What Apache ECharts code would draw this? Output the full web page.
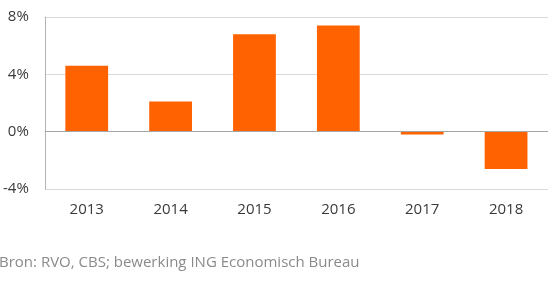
<!DOCTYPE html>
<html><head><meta charset="utf-8">
<script src="https://cdn.jsdelivr.net/npm/echarts@6/dist/echarts.min.js"></script>
<style>html,body{margin:0;padding:0;background:#fff}#c{width:558px;height:281px}</style>
</head><body><div id="c"></div>
<script>
const categories = ['2013','2014','2015','2016','2017','2018'];
const values = [4.6, 2.1, 6.8, 7.4, -0.2, -2.6];
const yTicks = {min: -4, max: 8, interval: 4};
const sourceText = 'Bron: RVO, CBS; bewerking ING Economisch Bureau';

const chart = echarts.init(document.getElementById('c'));
chart.setOption({
  animation: false,
  grid: {left: 44, right: 10, top: 17, bottom: 92, containLabel: false},
  graphic: [{type: 'text', left: -1, top: 255, style: {text: sourceText, fill: '#8a8a8a', font: '15px "Open Sans", sans-serif'}}],
  xAxis: {
    type: 'category', data: categories,
    axisLine: {show: false, onZero: false},
    axisTick: {show: false},
    axisLabel: {color: '#3a3a3a', fontSize: 15, fontFamily: '"Open Sans", sans-serif', margin: 13}
  },
  yAxis: {
    type: 'value', min: yTicks.min, max: yTicks.max, interval: yTicks.interval,
    axisLine: {show: true, lineStyle: {color: '#b3b3b3'}},
    axisTick: {show: false},
    splitLine: {lineStyle: {color: '#d9d9d9'}},
    axisLabel: {color: '#3a3a3a', fontSize: 15, fontFamily: '"Open Sans", sans-serif', margin: 16, formatter: v => v + '%'}
  },
  series: [{type: 'bar', data: values, barWidth: '51%', itemStyle: {color: '#ff6200'},
    markLine: {silent: true, symbol: 'none', label: {show: false},
      lineStyle: {color: '#a6a6a6', type: 'solid', width: 1},
      data: [{yAxis: 0}]}}]
});
</script></body></html>
